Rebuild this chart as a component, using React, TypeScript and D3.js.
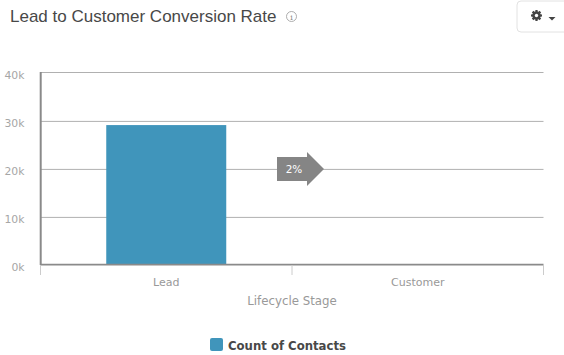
import React from "react";
import * as d3 from "d3";

const title = "Lead to Customer Conversion Rate";
const categories = ["Lead", "Customer"];
const seriesName = "Count of Contacts";
const seriesValues = [29150, 0];
const yTicks = [0, 10000, 20000, 30000, 40000];
const conversionLabel = "2%";
const xTitle = "Lifecycle Stage";

const W = 564, H = 355;
const x = d3.scaleBand<string>().domain(categories).range([40.5, 543.5]);
const y = d3.scaleLinear().domain([0, 40000]).range([265, 73]);
const barColor = "#4095bb";
const tickFont = "'DejaVu Sans', sans-serif";

const gearPath = (() => {
  const cx = 536.5, cy = 15.5;
  const pts: [number, number][] = [];
  for (let i = 0; i < 8; i++) {
    const a = (i / 8) * 2 * Math.PI;
    [[-0.28, 4.2], [-0.2, 5.6], [0.2, 5.6], [0.28, 4.2]].forEach(([d, r]) =>
      pts.push([cx + r * Math.cos(a + d), cy + r * Math.sin(a + d)])
    );
  }
  return (d3.line()(pts) ?? "") + "Z";
})();

export default function App() {
  const bw = 120;
  const midX = x.range()[0] + x.bandwidth();
  const ay = y(20000);
  const ax = 277;
  return (
    <svg width={W} height={H} style={{ position: "fixed", left: 0, top: 0, background: "#fff" }}>
      <text x={10} y={22} fontFamily="'Liberation Sans', Arial, sans-serif" fontSize={17} fill="#484848">{title}</text>
      <circle cx={291.5} cy={16.5} r={5} fill="none" stroke="#999" strokeWidth={0.8} />
      <text x={291.5} y={20} textAnchor="middle" fontFamily="'DejaVu Serif', serif" fontSize={8} fill="#888">i</text>

      <path d="M564,1 H521 a4,4 0 0 0 -4,4 V28 a4,4 0 0 0 4,4 H564" fill="#fff" stroke="#e2e2e2" />
      <path d={gearPath} fill="#444" />
      <circle cx={536.5} cy={15.5} r={1.7} fill="#fff" />
      <path d="M548.5,17 h7 l-3.5,3.5 Z" fill="#444" />

      {yTicks.map((t) => {
        const gy = y(t) + (t === 40000 ? -0.5 : 0.4);
        return (
          <g key={t}>
            {t > 0 && <line x1={40.5} x2={543.5} y1={gy} y2={gy} stroke="#b0b0b0" strokeWidth={1} />}
            <text x={24.5} y={y(t) + 6} textAnchor="end" fontFamily={tickFont} fontSize={10.8} fill="#a6a6a6">
              {`${t / 1000}k`}
            </text>
          </g>
        );
      })}

      {categories.map((c, i) => (
        <rect key={c} x={x(c)! + x.bandwidth() / 2 - bw / 2} width={bw} y={y(seriesValues[i])} height={y(0) - y(seriesValues[i])} fill={barColor} />
      ))}

      <line x1={40.7} x2={40.7} y1={72} y2={265} stroke="#8a8a8a" strokeWidth={2} />
      <line x1={40} x2={543.5} y1={y(0) - 0.3} y2={y(0) - 0.3} stroke="#8a8a8a" strokeWidth={1.8} />
      {[0, 1, 2].map((i) => {
        const tx = x.range()[0] + i * x.bandwidth();
        return <line key={i} x1={tx} x2={tx} y1={265} y2={275} stroke="#ccc" />;
      })}
      {categories.map((c) => (
        <text key={c} x={x(c)! + x.bandwidth() / 2} y={286} textAnchor="middle" fontFamily={tickFont} fontSize={11} fill="#999">{c}</text>
      ))}
      <text x={midX} y={305} textAnchor="middle" fontFamily={tickFont} fontSize={11.8} fill="#999">{xTitle}</text>

      <path d={`M${ax},${ay - 12} H${ax + 30} V${ay - 17} L${ax + 47},${ay} L${ax + 30},${ay + 17} V${ay + 12} H${ax} Z`} fill="#858585" />
      <text x={ax + 17} y={ay + 4} textAnchor="middle" fontFamily={tickFont} fontSize={10.5} fill="#fff">{conversionLabel}</text>

      <rect x={210} y={338} width={13} height={13} rx={2} fill={barColor} />
      <text x={228} y={349.5} fontFamily={tickFont} fontSize={11.7} fontWeight="bold" fill="#484848">{seriesName}</text>
    </svg>
  );
}
